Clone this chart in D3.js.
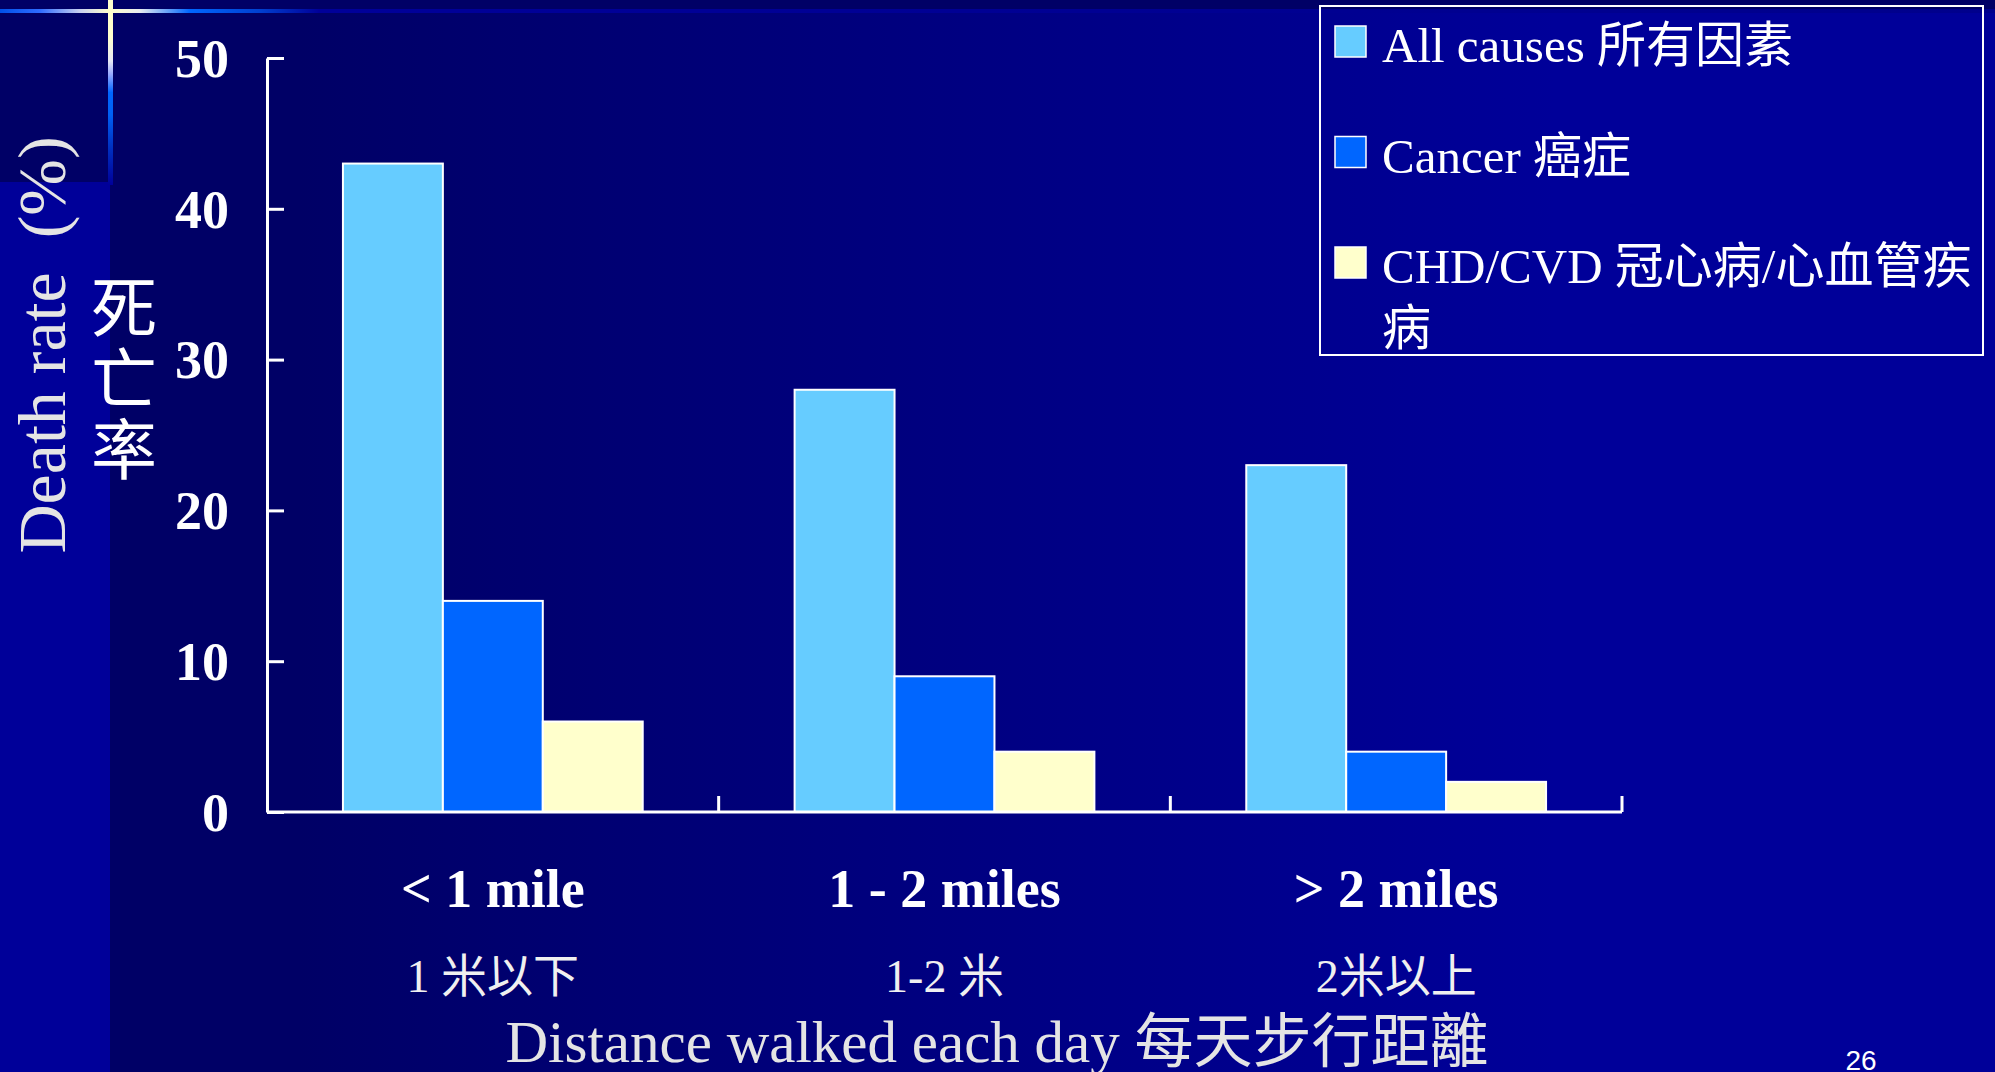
<!DOCTYPE html>
<html>
<head>
<meta charset="utf-8">
<script src="https://cdn.jsdelivr.net/npm/d3@7"></script>
<style>
body { margin: 0; background: #000066; overflow: hidden; }
</style>
</head>
<body>
<svg id="chart"></svg>
<script>
// data
var categories = ["< 1 mile", "1 - 2 miles", "> 2 miles"];
var categoriesZh = ["1 米以下", "1-2 米", "2米以上"];
var seriesNames = ["All causes", "Cancer", "CHD/CVD"];
var legendLines = [["All causes 所有因素"], ["Cancer 癌症"], ["CHD/CVD 冠心病/心血管疾", "病"]];
var allCauses = [43, 28, 23];
var cancer = [14, 9, 4];
var chdCvd = [6, 4, 2];
var yTicks = [0, 10, 20, 30, 40, 50];
var colors = ["#66ccff", "#0066ff", "#ffffcc"];

var W = 1995, H = 1072;
var serif = "'Liberation Serif', 'Times New Roman', 'Noto Sans CJK TC', serif";
var cjk = "'Noto Sans CJK TC', 'Noto Sans CJK SC', sans-serif";

var svg = d3.select("#chart").attr("width", W).attr("height", H);
var defs = svg.append("defs");

// slide background
var bg = defs.append("linearGradient").attr("id", "bg")
    .attr("x1", 0).attr("x2", 1).attr("y1", 0).attr("y2", 0);
bg.append("stop").attr("offset", 0.15).attr("stop-color", "#000066");
bg.append("stop").attr("offset", 0.78).attr("stop-color", "#000099");

var hl = defs.append("linearGradient").attr("id", "hline")
    .attr("x1", 0).attr("x2", 1).attr("y1", 0).attr("y2", 0);
[[0, "#0050e8"], [0.02, "#2f6cff"], [0.04, "#c8d0f0"], [0.055, "#ffffcc"], [0.07, "#e8ecf0"],
 [0.095, "#0066ff"], [0.13, "#0040d0"], [0.16, "#000099"], [1, "#00008c"]].forEach(function(s) {
    hl.append("stop").attr("offset", s[0]).attr("stop-color", s[1]);
});

var vl = defs.append("linearGradient").attr("id", "vline")
    .attr("x1", 0).attr("x2", 0).attr("y1", 0).attr("y2", 1);
[[0, "#ffffcc"], [0.2, "#ffffcc"], [0.33, "#e6e8f4"], [0.4, "#99aaff"], [0.5, "#0066ff"],
 [0.62, "#0060f4"], [0.8, "#0030c0"], [1, "#000099"]].forEach(function(s) {
    vl.append("stop").attr("offset", s[0]).attr("stop-color", s[1]);
});

svg.append("rect").attr("width", W).attr("height", H).attr("fill", "url(#bg)");
svg.append("rect").attr("width", W).attr("height", 10).attr("fill", "#000066");
svg.append("rect").attr("x", 0).attr("y", 182).attr("width", 110).attr("height", H - 182).attr("fill", "#000099");
svg.append("rect").attr("x", 108).attr("y", 0).attr("width", 5).attr("height", 185).attr("fill", "url(#vline)");
svg.append("rect").attr("x", 0).attr("y", 9).attr("width", W).attr("height", 4).attr("fill", "url(#hline)");
svg.append("rect").attr("x", 108).attr("y", 9).attr("width", 5).attr("height", 4).attr("fill", "#ffffcc");

// scales
var x0 = d3.scaleBand().domain(categories).range([267, 1622]).padding(0);
var x1 = d3.scaleBand().domain(seriesNames).range([0, x0.bandwidth()]).paddingInner(0).paddingOuter(0.76);
var y = d3.scaleLinear().domain([0, 50]).range([812, 58]);

var table = categories.map(function(c, i) {
    return { cat: c, values: [allCauses[i], cancer[i], chdCvd[i]] };
});

// bars
var groups = svg.selectAll(".grp").data(table).enter().append("g")
    .attr("transform", function(d) { return "translate(" + x0(d.cat) + ",0)"; });

groups.selectAll("rect")
    .data(function(d) {
        return d.values.map(function(v, j) { return { s: seriesNames[j], v: v, j: j }; });
    })
    .enter().append("rect")
    .attr("x", function(d) { return x1(d.s); })
    .attr("y", function(d) { return y(d.v); })
    .attr("width", x1.bandwidth())
    .attr("height", function(d) { return y(0) - y(d.v); })
    .attr("fill", function(d) { return colors[d.j]; })
    .attr("stroke", "white")
    .attr("stroke-width", 2);

// y axis, ticks pointing inward
var yAxis = svg.append("g").attr("transform", "translate(267,0)")
    .call(d3.axisLeft(y).tickValues(yTicks).tickSizeInner(-17).tickSizeOuter(0).tickPadding(38));
yAxis.select(".domain").attr("stroke", "white").attr("stroke-width", 3);
yAxis.selectAll(".tick line").attr("stroke", "white").attr("stroke-width", 3);
yAxis.selectAll(".tick text")
    .attr("fill", "white")
    .style("font-family", serif)
    .style("font-weight", "bold")
    .style("font-size", "54px")
    .attr("dy", "0.34em");

// x axis line with boundary ticks
svg.append("line")
    .attr("x1", x0.range()[0]).attr("x2", x0.range()[1])
    .attr("y1", y(0)).attr("y2", y(0))
    .attr("stroke", "white").attr("stroke-width", 3);
svg.selectAll(".xtick").data(categories).enter().append("line")
    .attr("x1", function(d) { return x0(d) + x0.bandwidth(); })
    .attr("x2", function(d) { return x0(d) + x0.bandwidth(); })
    .attr("y1", y(0)).attr("y2", y(0) - 16)
    .attr("stroke", "white").attr("stroke-width", 3);

// category labels
svg.selectAll(".cat").data(categories).enter().append("text")
    .attr("x", function(d) { return x0(d) + x0.bandwidth() / 2; })
    .attr("y", 907)
    .attr("text-anchor", "middle")
    .attr("fill", "white")
    .style("font-family", serif)
    .style("font-weight", "bold")
    .style("font-size", "54px")
    .text(function(d) { return d; });

svg.selectAll(".catzh").data(categoriesZh).enter().append("text")
    .attr("x", function(d, i) { return x0(categories[i]) + x0.bandwidth() / 2; })
    .attr("y", 992)
    .attr("text-anchor", "middle")
    .attr("fill", "#f0f0f0")
    .style("font-family", serif)
    .style("font-size", "46px")
    .text(function(d) { return d; });

// axis titles
svg.append("text")
    .attr("x", 997).attr("y", 1062)
    .attr("text-anchor", "middle")
    .attr("fill", "#e4e4e4")
    .style("font-family", serif)
    .style("font-size", "59px")
    .text("Distance walked each day 每天步行距離");

svg.append("text")
    .attr("transform", "translate(65,345) rotate(-90)")
    .attr("text-anchor", "middle")
    .attr("fill", "#e4e4e4")
    .style("font-family", serif)
    .style("font-size", "68px")
    .style("white-space", "pre")
    .text("Death rate  (%)");

svg.selectAll(".ytz").data(["死", "亡", "率"]).enter().append("text")
    .attr("x", 124)
    .attr("y", function(d, i) { return 308 + i * 71; })
    .attr("dy", "0.36em")
    .attr("text-anchor", "middle")
    .attr("fill", "white")
    .style("font-family", cjk)
    .style("font-size", "66px")
    .text(function(d) { return d; });

// legend
var legend = svg.append("g");
legend.append("rect")
    .attr("x", 1320).attr("y", 6).attr("width", 663).attr("height", 349)
    .attr("fill", "none").attr("stroke", "white").attr("stroke-width", 2);

var items = legend.selectAll(".item").data(legendLines).enter().append("g")
    .attr("transform", function(d, i) { return "translate(1335," + (26 + i * 110.5) + ")"; });
items.append("rect")
    .attr("width", 31).attr("height", 31)
    .attr("fill", function(d, i) { return colors[i]; })
    .attr("stroke", "white").attr("stroke-width", 1.5);
items.each(function(lines) {
    var t = d3.select(this).append("text")
        .attr("fill", "white")
        .style("font-family", serif)
        .style("font-size", "49px");
    lines.forEach(function(line, k) {
        t.append("tspan").attr("x", 47).attr("y", 36 + k * 62).text(line);
    });
});

// slide number
svg.append("text")
    .attr("x", 1861).attr("y", 1070)
    .attr("text-anchor", "middle")
    .attr("fill", "white")
    .style("font-family", "'Liberation Sans', Arial, sans-serif")
    .style("font-size", "28px")
    .text("26");
</script>
</body>
</html>
